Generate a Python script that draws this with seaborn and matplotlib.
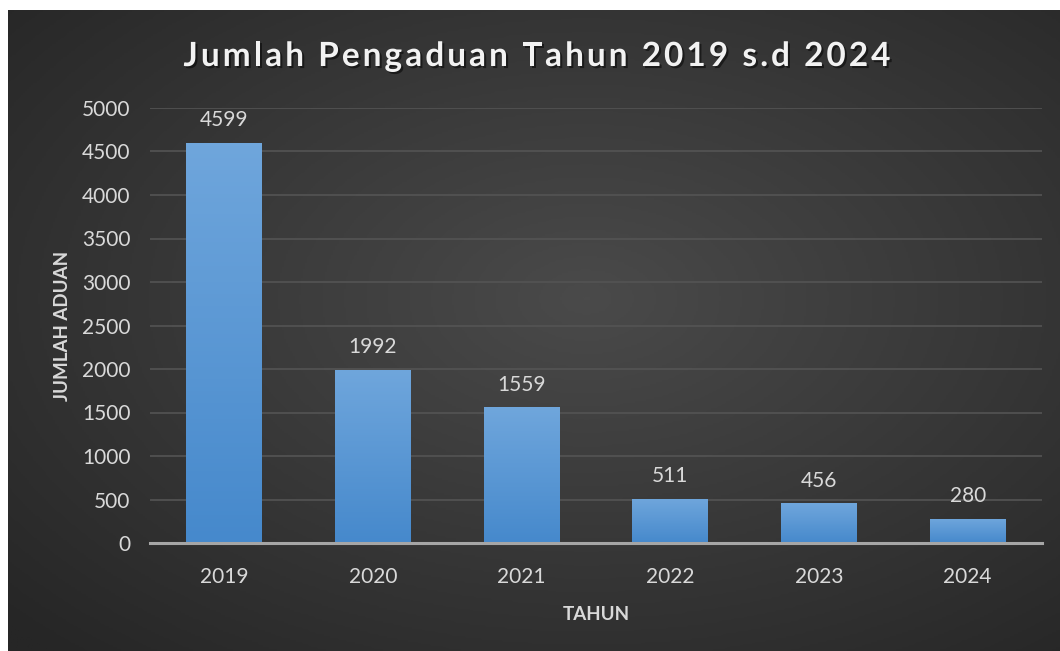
import numpy as np
import pandas as pd
import matplotlib
matplotlib.use("Agg")
import matplotlib.pyplot as plt
import matplotlib.patheffects as pe
from matplotlib.colors import LinearSegmentedColormap
import seaborn as sns

# ---- data ----
years = ["2019", "2020", "2021", "2022", "2023", "2024"]
aduan = [4599, 1992, 1559, 511, 456, 280]
title = "Jumlah Pengaduan Tahun 2019 s.d 2024"
xlabel = "TAHUN"
ylabel = "JUMLAH ADUAN"
yticks = [0, 500, 1000, 1500, 2000, 2500, 3000, 3500, 4000, 4500, 5000]

df = pd.DataFrame({"Tahun": years, "Aduan": aduan})

sns.set_theme(style="dark")
plt.rcParams["font.family"] = ["Lato", "DejaVu Sans"]

W, H = 1060, 651
fig = plt.figure(figsize=(W / 100, H / 100), dpi=100, facecolor="white")

# background panel with radial gradient
bg = fig.add_axes([8 / W, 0, 1 - 8 / W, (H - 10) / H])
bg.set_axis_off()
yy, xx = np.mgrid[0:1:300j, 0:1:500j]
r = np.sqrt(((xx - 0.55) / 0.75) ** 2 + ((yy - 0.45) / 0.75) ** 2)
r = np.clip(r, 0, 1)
bg_cmap = LinearSegmentedColormap.from_list("bg", ["#4a4a4a", "#262626"])
bg.imshow(r, cmap=bg_cmap, aspect="auto", extent=(0, 1, 0, 1), origin="upper")
bg.set_xlim(0, 1)
bg.set_ylim(0, 1)

ax = fig.add_axes([150 / W, 108 / H, 892 / W, 435 / H])
ax.set_facecolor("none")
sns.barplot(data=df, x="Tahun", y="Aduan", ax=ax, color="#5b9bd5",
            width=0.51, saturation=1, zorder=3)

ax.set_ylim(0, 5000)
ax.set_yticks(yticks)
ax.set_xlim(-0.5, len(years) - 0.5)

# gradient fill on bars
bar_cmap = LinearSegmentedColormap.from_list("bar", ["#4689cc", "#6fa6dc"])
grad = np.linspace(0, 1, 100).reshape(-1, 1)
for p in ax.patches:
    p.set_edgecolor("none")
    p.set_path_effects([pe.SimplePatchShadow(offset=(0, -1.5), shadow_rgbFace="black", alpha=0.35),
                        pe.Normal()])
    x0, y0 = p.get_x(), p.get_y()
    w, h = p.get_width(), p.get_height()
    im = ax.imshow(grad, cmap=bar_cmap, origin="lower", aspect="auto",
                   extent=(x0, x0 + w, y0, y0 + h), zorder=4)
    im.set_clip_path(p)
ax.set_ylim(0, 5000)
ax.set_xlim(-0.5, len(years) - 0.5)

ax.bar_label(ax.containers[0], labels=[str(v) for v in aduan], padding=9,
             color="#d9d9d9", fontsize=15, zorder=6)

# grid and spines
ax.grid(axis="y", color="#545454", linewidth=1.2, zorder=0)
ax.grid(axis="x", visible=False)
for s in ["top", "right", "left"]:
    ax.spines[s].set_visible(False)
ax.spines["bottom"].set_color("#a6a6a6")
ax.spines["bottom"].set_linewidth(2.2)
ax.spines["bottom"].set_zorder(5)

ax.tick_params(axis="y", length=0, pad=14, labelsize=15, labelcolor="#d9d9d9")
ax.tick_params(axis="x", length=0, pad=17, labelsize=15, labelcolor="#d9d9d9")

ax.set_xlabel(xlabel, fontsize=13.5, fontweight="bold", color="#d9d9d9", labelpad=14)
ax.set_ylabel(ylabel, fontsize=13.5, fontweight="bold", color="#d9d9d9", labelpad=8)

# title with letter spacing (drawn character by character)
renderer = fig.canvas.get_renderer()
tprops = dict(fontsize=24, fontweight="bold", color="#f2f2f2", va="baseline", ha="left",
              path_effects=[pe.withSimplePatchShadow(offset=(1.5, -1.5),
                                                     shadow_rgbFace="black", alpha=0.5)])
target_width = 707.0
widths = []
for ch in title:
    if ch == " ":
        t = fig.text(0, 0, "a a", **tprops)
        wa = fig.text(0, 0, "aa", **tprops)
        wd = t.get_window_extent(renderer).width - wa.get_window_extent(renderer).width
        t.remove(); wa.remove()
    else:
        t = fig.text(0, 0, ch, **tprops)
        wd = t.get_window_extent(renderer).width
        t.remove()
    widths.append(wd)
spacing = (target_width - sum(widths)) / (len(title) - 1)
xpos = 537 - target_width / 2
baseline_y = 66
for ch, wd in zip(title, widths):
    if ch != " ":
        fig.text(xpos / W, 1 - baseline_y / H, ch, **tprops)
    xpos += wd + spacing

fig.savefig("out.png", dpi=100, facecolor="white")
